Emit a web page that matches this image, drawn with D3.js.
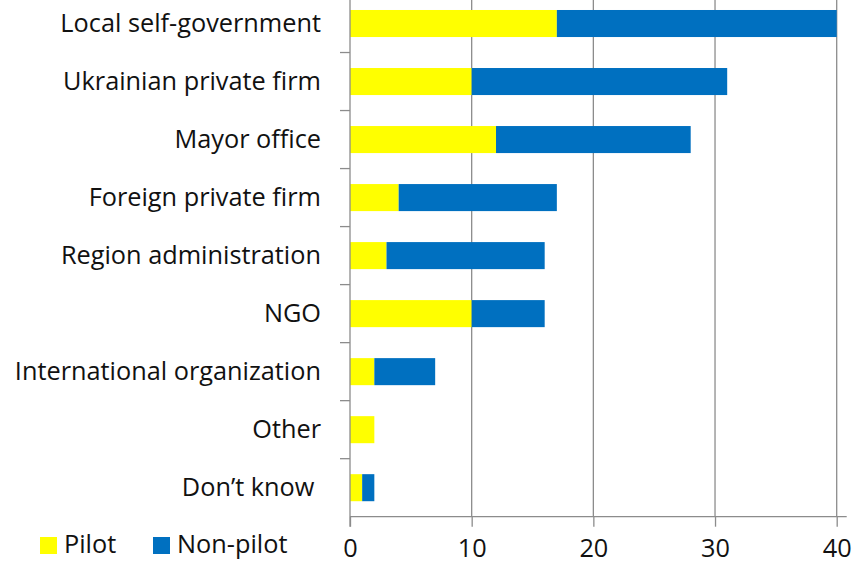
<!DOCTYPE html>
<html>
<head>
<meta charset="utf-8">
<script src="https://cdn.jsdelivr.net/npm/d3@7"></script>
<style>
  html, body { margin: 0; padding: 0; background: #fff; }
  svg { display: block; }
  text { font-family: "Open Sans", Lato, sans-serif; fill: #111; }
</style>
</head>
<body>
<svg id="chart" width="855" height="565"></svg>
<script>
// Who initiated / carried out the project, by respondent group
const categories = [
  "Local self-government",
  "Ukrainian private firm",
  "Mayor office",
  "Foreign private firm",
  "Region administration",
  "NGO",
  "International organization",
  "Other",
  "Don’t know "
];
const pilot    = [17, 10, 12, 4, 3, 10, 2, 2, 1];
const nonPilot = [23, 21, 16, 13, 13, 6, 5, 0, 1];
const seriesNames = ["Pilot", "Non-pilot"];
const seriesColors = ["#FFFF00", "#0070C0"];
const xTicks = [0, 10, 20, 30, 40];

const fontSize = 25.3;
const svg = d3.select("#chart");

const plotLeft = 350, plotRight = 836.7, plotTop = -5.5, plotBottom = 516.7;

const x = d3.scaleLinear().domain([0, 40]).range([plotLeft, plotRight]);
const y = d3.scaleBand().domain(categories).range([plotTop, plotBottom])
  .paddingInner(0.534).paddingOuter(0.267);

// vertical gridlines
svg.append("g")
  .selectAll("line")
  .data(xTicks.filter(d => d > 0))
  .join("line")
  .attr("x1", d => x(d)).attr("x2", d => x(d))
  .attr("y1", plotTop).attr("y2", plotBottom)
  .attr("stroke", "#8c8c8c").attr("stroke-width", 1.3);

// stacked bars
const rows = categories.map((c, i) => ({ cat: c, values: [pilot[i], nonPilot[i]] }));
const stack = d3.stack().keys([0, 1]).value((d, k) => d.values[k]);
const layers = stack(rows);

svg.append("g")
  .selectAll("g")
  .data(layers)
  .join("g")
  .attr("fill", (d, i) => seriesColors[i])
  .selectAll("rect")
  .data(d => d.filter(s => s[1] - s[0] > 0))
  .join("rect")
  .attr("x", d => x(d[0]))
  .attr("width", d => x(d[1]) - x(d[0]))
  .attr("y", d => y(d.data.cat))
  .attr("height", y.bandwidth());

// x axis
const xAxis = d3.axisBottom(x).tickValues(xTicks).tickSize(10).tickPadding(12);
const gx = svg.append("g").attr("transform", `translate(0,${plotBottom})`).call(xAxis);
gx.select(".domain").attr("stroke", "#8c8c8c").attr("stroke-width", 1.3)
  .attr("d", `M${plotLeft},0H${plotRight + 10}`);
gx.selectAll(".tick line").attr("stroke", "#8c8c8c").attr("stroke-width", 1.3);
gx.selectAll(".tick text")
  .attr("font-size", fontSize).attr("font-family", "'Open Sans', sans-serif")
  .attr("fill", "#111");

// y axis: line with tick marks between categories
const gy = svg.append("g");
gy.append("line")
  .attr("x1", plotLeft).attr("x2", plotLeft).attr("y1", plotTop).attr("y2", plotBottom + 10)
  .attr("stroke", "#8c8c8c").attr("stroke-width", 1.3);
const boundaries = categories.slice(1).map(c => y(c) - y.step() * y.paddingInner() / 2);
gy.selectAll("line.tk")
  .data(boundaries)
  .join("line").attr("class", "tk")
  .attr("x1", plotLeft - 10).attr("x2", plotLeft)
  .attr("y1", d => d).attr("y2", d => d)
  .attr("stroke", "#8c8c8c").attr("stroke-width", 1.3);

// category labels
svg.append("g")
  .selectAll("text")
  .data(categories)
  .join("text")
  .attr("xml:space", "preserve")
  .attr("x", 321)
  .attr("y", d => y(d) + y.bandwidth() / 2)
  .attr("dy", "0.33em")
  .attr("text-anchor", "end")
  .attr("font-size", fontSize)
  .text(d => d);

// legend
const legendX = [40, 153];
const lg = svg.append("g");
seriesNames.forEach((name, i) => {
  lg.append("rect")
    .attr("x", legendX[i]).attr("y", 537)
    .attr("width", 17).attr("height", 17)
    .attr("fill", seriesColors[i]);
  lg.append("text")
    .attr("x", legendX[i] + 24).attr("y", 553)
    .attr("font-size", fontSize)
    .text(name);
});
</script>
</body>
</html>
